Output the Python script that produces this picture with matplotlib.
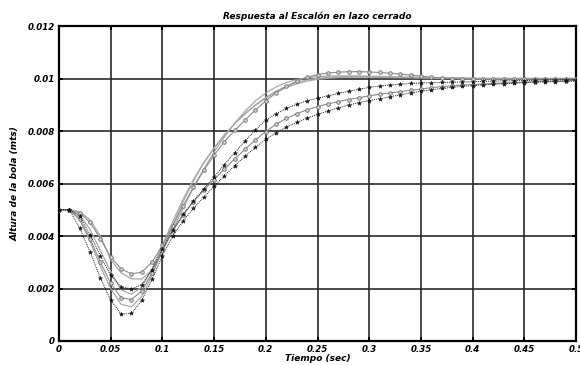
import numpy as np
import matplotlib
matplotlib.use("Agg")
import matplotlib.pyplot as plt

# time axis (s)
t = [round(0.01 * i, 2) for i in range(51)]

# responses in units of 1e-3 m
tail10 = [10.00] * 10
curve_a = [5.00, 5.00, 4.92, 4.62, 4.00, 3.10, 2.60, 2.37, 2.36, 2.70,
           3.40, 4.25, 5.05, 5.85, 6.55, 7.20, 7.78, 8.30, 8.75, 9.15,
           9.45, 9.68, 9.85, 9.96, 10.03, 10.07, 10.09, 10.10, 10.10, 10.10,
           10.09, 10.08, 10.07, 10.06, 10.05, 10.04, 10.03, 10.02, 10.02, 10.01,
           10.01] + tail10
curve_b = [5.00, 5.00, 4.88, 4.52, 3.90, 3.20, 2.75, 2.56, 2.62, 3.00,
           3.65, 4.40, 5.15, 5.85, 6.50, 7.08, 7.60, 8.02, 8.42, 8.80,
           9.15, 9.45, 9.70, 9.90, 10.05, 10.15, 10.21, 10.24, 10.26, 10.26,
           10.25, 10.23, 10.20, 10.17, 10.13, 10.09, 10.05, 10.02, 10.00, 9.98,
           9.97, 9.97, 9.97, 9.97, 9.97, 9.98, 9.98, 9.98, 9.99, 9.99,
           9.99]
curve_c = [5.00, 5.00, 4.75, 4.05, 3.25, 2.50, 2.07, 1.98, 2.15, 2.72,
           3.52, 4.22, 4.82, 5.33, 5.80, 6.25, 6.72, 7.18, 7.62, 8.04,
           8.42, 8.66, 8.86, 9.02, 9.15, 9.25, 9.34, 9.43, 9.51, 9.59,
           9.66, 9.71, 9.75, 9.78, 9.81, 9.83, 9.84, 9.85, 9.86, 9.87,
           9.88, 9.89, 9.90, 9.91, 9.92, 9.92, 9.93, 9.94, 9.94, 9.95,
           9.95]
curve_g = [5.00, 5.00, 4.80, 4.25, 3.45, 2.65, 1.95, 1.78, 2.05, 2.75,
           3.65, 4.55, 5.40, 6.15, 6.80, 7.35, 7.85, 8.28, 8.66, 9.00,
           9.28, 9.52, 9.71, 9.85, 9.95, 10.01, 10.04, 10.06, 10.07, 10.07,
           10.07, 10.06, 10.05, 10.04, 10.04, 10.03, 10.02, 10.02, 10.01, 10.01,
           10.01] + tail10
curve_e = [5.00, 5.00, 4.65, 3.90, 3.00, 2.20, 1.65, 1.58, 1.90, 2.60,
           3.45, 4.20, 4.80, 5.30, 5.75, 6.15, 6.55, 6.94, 7.31, 7.66,
           7.98, 8.26, 8.48, 8.66, 8.81, 8.93, 9.03, 9.12, 9.20, 9.27,
           9.34, 9.40, 9.45, 9.50, 9.55, 9.60, 9.65, 9.69, 9.72, 9.75,
           9.77, 9.79, 9.81, 9.83, 9.85, 9.86, 9.88, 9.89, 9.90, 9.91,
           9.93]
curve_d = [5.00, 5.00, 4.62, 3.80, 2.85, 2.00, 1.40, 1.30, 1.70, 2.50,
           3.45, 4.40, 5.30, 6.10, 6.78, 7.35, 7.85, 8.28, 8.66, 8.98,
           9.25, 9.48, 9.66, 9.80, 9.90, 9.97, 10.01, 10.04, 10.05, 10.05,
           10.05, 10.04, 10.04, 10.03, 10.03, 10.02, 10.02, 10.01, 10.01, 10.01,
           10.00] + tail10
curve_f = [5.00, 5.00, 4.30, 3.40, 2.40, 1.56, 1.03, 1.05, 1.55, 2.35,
           3.25, 4.00, 4.58, 5.05, 5.48, 5.90, 6.30, 6.68, 7.04, 7.38,
           7.68, 7.94, 8.15, 8.33, 8.49, 8.63, 8.76, 8.88, 8.99, 9.08,
           9.16, 9.23, 9.30, 9.38, 9.45, 9.51, 9.57, 9.62, 9.66, 9.70,
           9.73, 9.76, 9.78, 9.80, 9.82, 9.84, 9.86, 9.87, 9.88, 9.89,
           9.90]

x_ticks = [0, 0.05, 0.1, 0.15, 0.2, 0.25, 0.3, 0.35, 0.4, 0.45, 0.5]
x_labels = ["0", "0.05", "0.1", "0.15", "0.2", "0.25", "0.3", "0.35", "0.4", "0.45", "0.5"]
y_ticks = [0, 0.002, 0.004, 0.006, 0.008, 0.01, 0.012]
y_labels = ["0", "0.002", "0.004", "0.006", "0.008", "0.01", "0.012"]

fig = plt.figure(figsize=(5.8, 3.65), dpi=100)
ax = fig.add_axes([59/580, 1-341/365, (576-59)/580, (341-26)/365])

tt = np.array(t)
def y(c):
    return np.array(c) * 1e-3

# thin gray solid curves
for c in (curve_a, curve_g, curve_d):
    ax.plot(tt, y(c), color="#a8a8a8", lw=0.9, zorder=3)
# gray circle curves
for c in (curve_b, curve_e):
    ax.plot(tt, y(c), color="#8c8c8c", lw=0.8, marker="o", ms=2.6,
            mfc="#d0d0d0", mec="#707070", mew=0.6, zorder=4)
# black star curves
for c in (curve_c, curve_f):
    ax.plot(tt, y(c), color="#222222", lw=0.7, ls=(0, (1, 1)), marker="*",
            ms=3.2, mfc="#111111", mec="#111111", mew=0.3, zorder=5)

ax.set_xlim(0, 0.5)
ax.set_ylim(0, 0.012)
ax.set_xticks(x_ticks)
ax.set_xticklabels(x_labels)
ax.set_yticks(y_ticks)
ax.set_yticklabels(y_labels)
ax.grid(True, color="#2a2a2a", lw=1.2)
ax.set_axisbelow(True)
for s in ax.spines.values():
    s.set_linewidth(1.6)
    s.set_color("black")
ax.tick_params(direction="in", top=True, right=True, length=3, width=1.4,
               labelsize=6.2, pad=3)
for lab in ax.get_xticklabels() + ax.get_yticklabels():
    lab.set_fontstyle("italic")
    lab.set_fontweight("bold")

ax.set_title("Respuesta al Escalón en lazo cerrado", fontsize=6.5,
             fontstyle="italic", fontweight="bold", pad=5)
ax.set_xlabel("Tiempo (sec)", fontsize=6.5, fontstyle="italic",
              fontweight="bold", labelpad=0)
ax.set_ylabel("Altura de la bola (mts)", fontsize=6.5, fontstyle="italic",
              fontweight="bold", labelpad=6)

fig.savefig("out.png", dpi=100, facecolor="white")
